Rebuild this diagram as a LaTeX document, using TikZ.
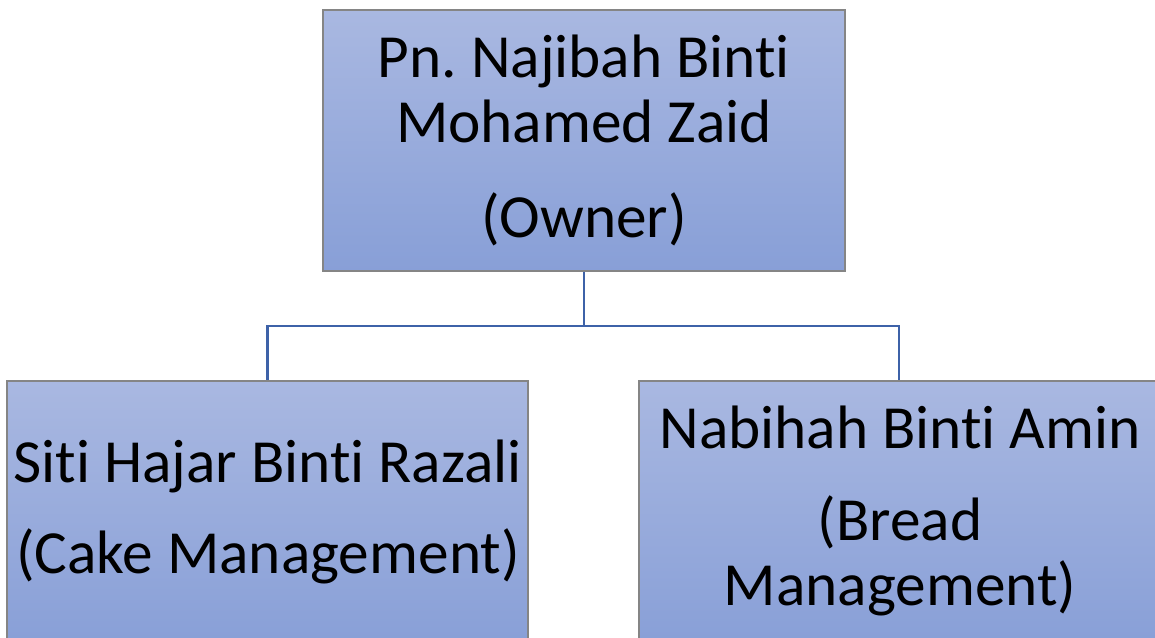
\documentclass[tikz,border=0pt]{standalone}
\usepackage{fontspec}
\setmainfont[Ligatures={NoCommon,NoContextual}]{Carlito}
\frenchspacing
\newcommand{\ti}{t\kern0pt i}
\begin{document}
\begin{tikzpicture}[x=1pt,y=-1pt,
  box/.style={draw=black!48, line width=1.4pt, top color=boxtop, bottom color=boxbot, inner sep=0pt},
  conn/.style={draw=connblue, line width=2.2pt},
  txt/.style={anchor=base, inner sep=0pt, font=\fontsize{61.3}{72}\selectfont}]
\definecolor{boxtop}{HTML}{A9B8E1}
\definecolor{boxbot}{HTML}{889FD7}
\definecolor{connblue}{HTML}{3E62A8}
\path[use as bounding box] (0,0) rectangle (1155,637);
\clip (0,0) rectangle (1155,637);
\node[box, minimum width=522pt, minimum height=261pt] (top) at (584,140.5) {};
\node[box, minimum width=521pt, minimum height=266pt] (left) at (267.5,514) {};
\node[box, minimum width=520pt, minimum height=266pt] (right) at (899,514) {};
\coordinate (j) at (584,326);
\draw[conn] (top.south) -- (j);
\draw[conn] (j) -| (left.north);
\draw[conn] (j) -| (right.north);
\node[txt] (t1) at (584,77) {Pn.\ Najibah Bin\ti};
\node[txt] (t2) at (584,142) {Mohamed Zaid};
\node[txt] (t3) at (584,237) {(Owner)};
\node[txt] (l1) at (268,482) {Si\ti\ Hajar Bin\ti\ Razali};
\node[txt] (l2) at (268,573) {(Cake Management)};
\node[txt] (r1) at (900,448) {Nabihah Bin\ti\ Amin};
\node[txt] (r2) at (900,540) {(Bread};
\node[txt] (r3) at (900,605) {Management)};
\end{tikzpicture}
\end{document}
